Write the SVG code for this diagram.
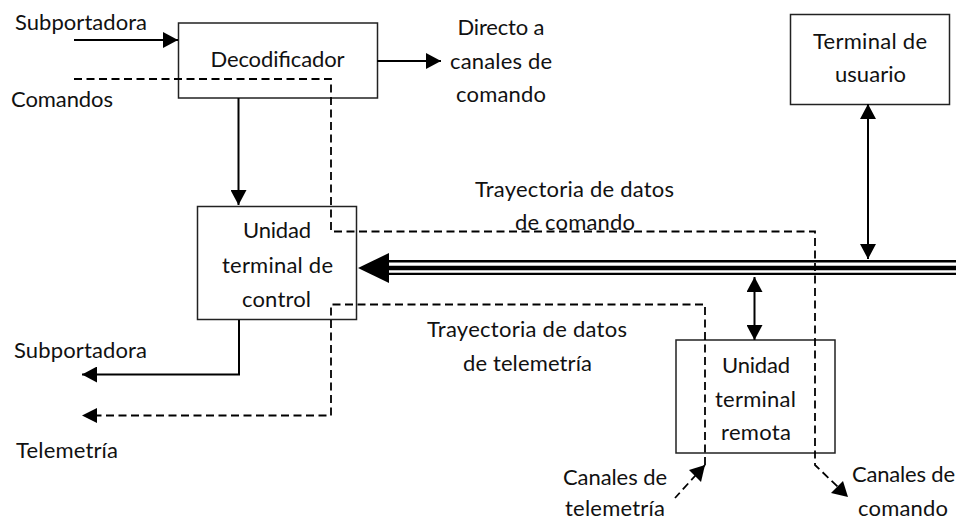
<svg xmlns="http://www.w3.org/2000/svg" width="956" height="521" viewBox="0 0 956 521">
<style>
text{font-family:Lato,"Open Sans","Liberation Sans",sans-serif;font-size:22px;fill:#111;text-anchor:middle}
.box{fill:#fff;stroke:#222;stroke-width:1.500}
.s{fill:none;stroke:#000;stroke-width:2}
.d{fill:none;stroke:#000;stroke-width:1.800;stroke-dasharray:8 4.500}
</style>
<defs>
<marker id="a" markerUnits="userSpaceOnUse" markerWidth="16" markerHeight="16" refX="15" refY="8" orient="auto-start-reverse"><path d="M0 0L15 8L0 16Z" fill="#000"/></marker>
</defs>
<rect width="956" height="521" fill="#fff"/>
<g id="n-decodificador"><rect class="box" x="178.500" y="23" width="199" height="75"/><text x="277.500" y="67" textLength="134">Decodificador</text></g>
<g id="n-control"><rect class="box" x="197.500" y="206.500" width="159" height="113"/><text x="277" y="238" textLength="68">Unidad</text><text x="277.500" y="273" textLength="111">terminal de</text><text x="276.500" y="307" textLength="69">control</text></g>
<g id="n-usuario"><rect class="box" x="790.500" y="14.500" width="159" height="90"/><text x="870" y="49" textLength="114">Terminal de</text><text x="870.500" y="82" textLength="71">usuario</text></g>
<g id="n-remota"><rect class="box" x="676" y="340" width="159" height="113"/><text x="756" y="373" textLength="68">Unidad</text><text x="755.500" y="407" textLength="81">terminal</text><text x="756" y="440" textLength="70">remota</text></g>
<g id="connectors">
<path d="M956 261.300H385" stroke="#000" stroke-width="2.600"/>
<path d="M956 268H385" stroke="#000" stroke-width="4.600"/>
<path d="M956 273.800H385" stroke="#000" stroke-width="2.300"/>
<path d="M358 268L389 253V283Z" fill="#000"/>
<path class="s" d="M74 40H178" marker-end="url(#a)"/>
<path class="s" d="M377 61H441" marker-end="url(#a)"/>
<path class="s" d="M238.500 98V205" marker-end="url(#a)"/>
<path class="s" d="M239 320V374.500H82" marker-end="url(#a)"/>
<path class="d" d="M74 79H331V231.500H815V465L838 487"/>
<path d="M848 497L831 493L843 481Z" fill="#000"/>
<path class="d" d="M705 465V304.500H331V415.500H95"/>
<path d="M82 415.500L97 408V423Z" fill="#000"/>
<path class="d" d="M705 465L675 498"/>
<path d="M705 465L701 482L689 470Z" fill="#000"/>
<path class="s" d="M868 104V259" marker-start="url(#a)" marker-end="url(#a)"/>
<path class="s" d="M754.500 277V340" marker-start="url(#a)" marker-end="url(#a)"/>
</g>
<g id="labels">
<text x="81" y="30" textLength="132">Subportadora</text>
<text x="62" y="107" textLength="102">Comandos</text>
<text x="501" y="35" textLength="87">Directo a</text>
<text x="501" y="69" textLength="102">canales de</text>
<text x="501" y="102" textLength="90">comando</text>
<text x="574.500" y="197" textLength="199">Trayectoria de datos</text>
<text x="575" y="230" textLength="120">de comando</text>
<text x="527" y="337" textLength="200">Trayectoria de datos</text>
<text x="527.500" y="371" textLength="129">de telemetría</text>
<text x="80.500" y="358" textLength="133">Subportadora</text>
<text x="67" y="458" textLength="102">Telemetría</text>
<text x="615" y="485" textLength="104">Canales de</text>
<text x="615" y="516" textLength="100">telemetría</text>
<text x="903.500" y="482" textLength="103">Canales de</text>
<text x="903" y="516" textLength="90">comando</text>
</g>
</svg>
